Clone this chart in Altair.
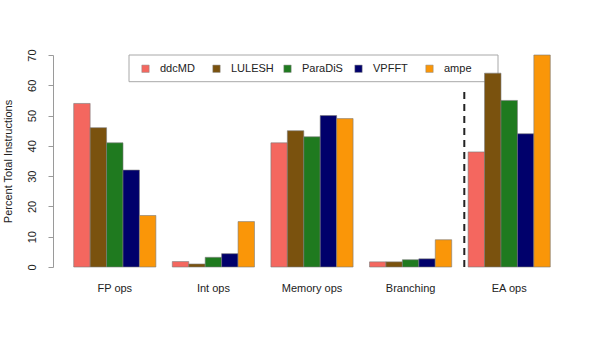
import altair as alt
import pandas as pd

categories = ["FP ops", "Int ops", "Memory ops", "Branching", "EA ops"]
series = ["ddcMD", "LULESH", "ParaDiS", "VPFFT", "ampe"]
ddcMD = [54, 1.8, 41, 1.7, 38]
LULESH = [46, 1.0, 45, 1.7, 64]
ParaDiS = [41, 3.2, 43, 2.4, 55]
VPFFT = [32, 4.4, 50, 2.7, 44]
ampe = [17, 15, 49, 9, 70]
colors = ["#F4675F", "#7A520E", "#1F7A1F", "#00006B", "#FA9608"]
y_ticks = [0, 10, 20, 30, 40, 50, 60, 70]
separator_top = 58

values = {"ddcMD": ddcMD, "LULESH": LULESH, "ParaDiS": ParaDiS, "VPFFT": VPFFT, "ampe": ampe}
rows = []
for s in series:
    for c, v in zip(categories, values[s]):
        rows.append({"category": c, "series": s, "value": v})
df = pd.DataFrame(rows)

FONT = "Liberation Sans"

y_axis = alt.Axis(
    values=y_ticks, grid=False, labelAngle=270, labelAlign="center",
    labelBaseline="bottom", labelPadding=11, labelFontSize=11, labelFont=FONT,
    labelColor="#222222", labelOverlap=False, tickSize=5, tickColor="#9a9a9a",
    domainColor="#9a9a9a",
    title="Percent Total Instructions", titleFont=FONT, titleFontSize=11,
    titleFontWeight="normal", titleColor="#222222", titleAngle=270,
    titleX=-45, titleY=106, titleAlign="center", titleBaseline="middle",
)
y_scale = alt.Scale(domain=[0, 70], nice=False, zero=True)

box = alt.Chart(pd.DataFrame({"a": [0]})).mark_rect(
    fill="white", stroke="#a8a8a8", strokeWidth=1
).encode(x=alt.value(76), x2=alt.value(445), y=alt.value(0), y2=alt.value(26.7))

bars = alt.Chart(df).mark_bar(stroke="#7a7a7a", strokeWidth=0.6).encode(
    x=alt.X(
        "category:N",
        sort=categories,
        scale=alt.Scale(paddingInner=1 / 6, paddingOuter=0.21),
        axis=alt.Axis(
            title=None, labelAngle=0, ticks=False, domain=False, labelPadding=15,
            labelFontSize=11, labelFont=FONT, labelColor="#222222",
        ),
    ),
    xOffset=alt.XOffset("series:N", sort=series, scale=alt.Scale(paddingInner=0, paddingOuter=0)),
    y=alt.Y("value:Q", scale=y_scale, axis=y_axis),
    color=alt.Color(
        "series:N",
        sort=series,
        scale=alt.Scale(domain=series, range=colors),
        legend=alt.Legend(
            orient="none", legendX=87, legendY=8, direction="horizontal", title=None,
            columns=5, gridAlign="all", symbolType="square", symbolSize=54,
            symbolStrokeWidth=0.5, symbolStrokeColor="#888888", labelFontSize=11,
            labelFont=FONT, labelColor="#222222", columnPadding=8, labelOffset=9,
            padding=0,
        ),
    ),
)

rule = alt.Chart(pd.DataFrame({"a": [0]})).mark_rule(
    strokeDash=[7, 5], strokeWidth=2, color="#222222"
).encode(
    x=alt.value(411.3),
    y=alt.Y(datum=0, type="quantitative", scale=y_scale, axis=y_axis),
    y2=alt.Y2(datum=separator_top),
)

chart = alt.layer(box, bars, rule).properties(
    width=518,
    height=212,
    autosize=alt.AutoSizeParams(type="none"),
    padding={"left": 53, "top": 55, "right": 29, "bottom": 71},
).configure_view(stroke=None)

chart.save("out.html", embed_options={"renderer": "svg", "actions": False})
